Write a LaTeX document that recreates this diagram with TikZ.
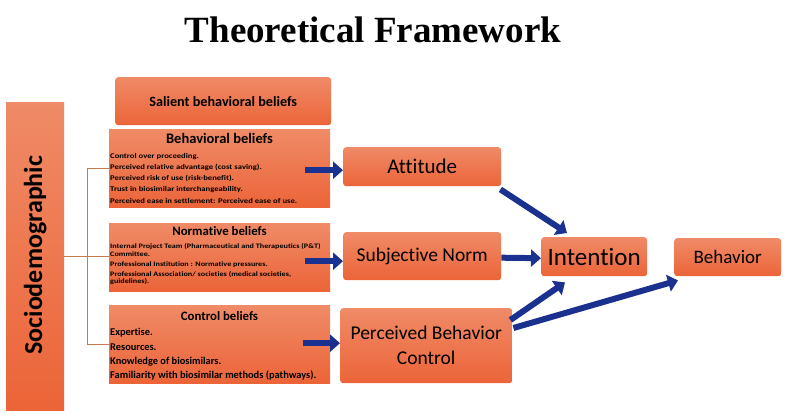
\documentclass[tikz,border=0pt]{standalone}
\usepackage{fontspec}
\setmainfont[Ligatures=NoCommon]{Carlito}
\newfontfamily\titlefont{Liberation Serif}
\newfontfamily\widefont[FakeStretch=1.2,Ligatures=NoCommon]{Carlito}
\usetikzlibrary{arrows.meta,calc}
\definecolor{otop}{HTML}{EF8B67}
\definecolor{obot}{HTML}{EC6438}
\definecolor{navy}{HTML}{1B3190}
\definecolor{connc}{HTML}{C77A52}
\tikzset{
  obox/.style={top color=otop, bottom color=obot, draw=none, inner sep=0pt, anchor=north west},
  rbox/.style={obox, rounded corners=3pt},
  barrow/.style={draw=navy, line width=6pt, -{Triangle[length=10pt,width=17pt]}},
  conn/.style={draw=connc, line width=0.9pt},
  items/.style={anchor=north west, align=left, inner sep=0pt},
}
\begin{document}
\begin{tikzpicture}[x=1pt,y=-1pt]
\useasboundingbox[fill=white] (0,0) rectangle (793,417);
% title
\node[font=\titlefont\bfseries\fontsize{37}{40}\selectfont, inner sep=0pt, anchor=base] (title) at (373,43) {Theoretical Framework};
% sociodemographic
\node[obox, minimum width=58pt, minimum height=308pt] (soc) at (6,102) {};
\node[rotate=90, font=\bfseries\fontsize{26}{28}\selectfont] (soct) at ($(soc.center)+(0,-1)$) {Sociodemographic};
% salient
\node[rbox, minimum width=216pt, minimum height=48pt] (sal) at (115,77) {};
\node[font=\bfseries\fontsize{14.2}{16}\selectfont] (salt) at (sal.center) {Salient behavioral beliefs};
% behavioral beliefs
\node[obox, minimum width=221pt, minimum height=78pt] (bb) at (109,129) {};
\node[font=\bfseries\fontsize{14.5}{16}\selectfont, anchor=center] (bbh) at (219.5,138.5) {Behavioral beliefs};
\node[items, font=\widefont\bfseries\fontsize{7.2}{11.2}\selectfont] (bbi) at (110,153) {Control over proceeding.\\Perceived relative advantage (cost saving).\\Perceived risk of use (risk-benefit).\\Trust in biosimilar interchangeability.\\Perceived ease in settlement: Perceived ease of use.};
% normative beliefs
\node[obox, minimum width=221pt, minimum height=68pt] (nb) at (109,223) {};
\node[font=\bfseries\fontsize{12.8}{14}\selectfont, anchor=center] (nbh) at (219.5,231.5) {Normative beliefs};
\node[items, font=\widefont\bfseries\fontsize{6.8}{7.8}\selectfont] (nbi) at (110,243) {Internal Project Team (Pharmaceutical and Therapeutics (P\&T)\\Committee.\\[2.2pt]Professional Institution : Normative pressures.\\[2.2pt]Professional Association/ societies (medical societies,\\guidelines).};
% control beliefs
\node[obox, minimum width=221pt, minimum height=78pt] (cb) at (109,305) {};
\node[font=\bfseries\fontsize{12.8}{14}\selectfont, anchor=center] (cbh) at (219.5,316) {Control beliefs};
\node[items, font=\bfseries\fontsize{10.4}{14.3}\selectfont] (cbi) at (110,328.5) {Expertise.\\Resources.\\Knowledge of biosimilars.\\Familiarity with biosimilar methods (pathways).};
% right column
\node[rbox, minimum width=158pt, minimum height=39pt] (att) at (343,147) {};
\node[font=\fontsize{21}{23}\selectfont] (attt) at (att.center) {Attitude};
\node[rbox, minimum width=158pt, minimum height=48pt] (sn) at (343,232) {};
\node[font=\fontsize{19.5}{21}\selectfont] (snt) at (sn.center) {Subjective Norm};
\node[rbox, minimum width=172pt, minimum height=75pt] (pbc) at (340,308) {};
\node[font=\fontsize{19.5}{25}\selectfont, align=center] (pbct) at (pbc.center) {Perceived Behavior\\Control};
\node[rbox, minimum width=106pt, minimum height=39pt] (int) at (541,237) {};
\node[font=\fontsize{25}{27}\selectfont] (intt) at (int.center) {Intention};
\node[rbox, minimum width=107pt, minimum height=38pt] (beh) at (674,238) {};
\node[font=\fontsize{19}{21}\selectfont] (beht) at (beh.center) {Behavior};
% connectors from sociodemographic
\coordinate (ja) at (87,168);
\coordinate (jc) at (87,344);
\draw[conn] (soc.east) -- (soc.east -| nb.west);
\draw[conn] (ja) -- (jc);
\draw[conn] (ja) -- (ja -| bb.west);
\draw[conn] (jc) -- (jc -| cb.west);
% blue arrows
\draw[barrow] ($(bb.east |- att.west)+(-25,3.5)$) -- ($(att.west)+(0,3.5)$);
\draw[barrow] ($(nb.east |- sn.west)+(-25,5)$) -- ($(sn.west)+(0,5)$);
\draw[barrow] ($(cb.east |- pbc.west)+(-27,-2.5)$) -- ($(pbc.west)+(0,-2.5)$);
\draw[barrow] ([xshift=-1pt,yshift=-3pt]att.south east) -- ([xshift=26pt,yshift=4pt]int.north west);
\draw[barrow] ([yshift=-1.5pt]sn.east) -- ([yshift=-1.5pt]int.west);
\draw[barrow] ([xshift=-2pt,yshift=-12pt]pbc.north east) -- ([xshift=24pt,yshift=-6pt]int.south west);
\draw[barrow] ([xshift=1pt,yshift=-20pt]pbc.north east) -- ([xshift=4pt,yshift=-4pt]beh.south west);
\end{tikzpicture}
\end{document}
